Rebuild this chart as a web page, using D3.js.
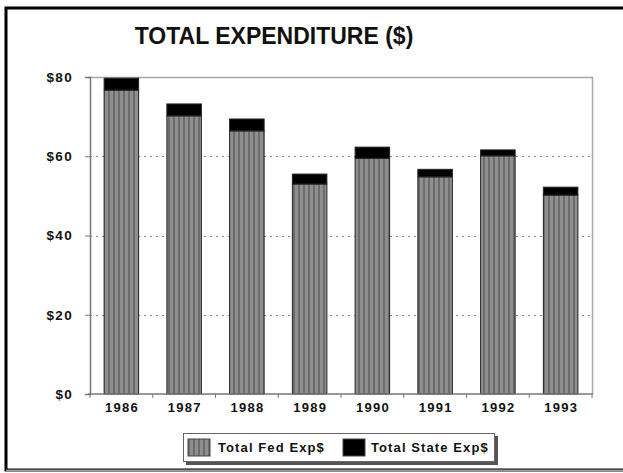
<!DOCTYPE html>
<html>
<head>
<meta charset="utf-8">
<script src="https://cdn.jsdelivr.net/npm/d3@7"></script>
<style>
  html, body { margin: 0; padding: 0; background: #fff; }
  svg { display: block; font-family: Arial, "Liberation Sans", sans-serif; }
</style>
</head>
<body>
<svg id="chart" width="623" height="473"></svg>
<script>
// Expenditure by year, in dollars
const years = ["1986", "1987", "1988", "1989", "1990", "1991", "1992", "1993"];
const fedExp = [76.7, 70.2, 66.4, 53.0, 59.5, 54.8, 60.1, 50.2];
const stateExp = [3.0, 3.0, 3.0, 2.5, 2.8, 1.9, 1.5, 2.0];
const yTicks = [0, 20, 40, 60, 80];
const seriesNames = ["Total Fed Exp$", "Total State Exp$"];

const svg = d3.select("#chart");

// striped fill used for the federal series
const defs = svg.append("defs");
const pat = defs.append("pattern")
  .attr("id", "fedStripes")
  .attr("patternUnits", "userSpaceOnUse")
  .attr("width", 5).attr("height", 10);
pat.append("rect").attr("width", 5).attr("height", 10).attr("fill", "#8e8e8e");
pat.append("rect").attr("x", 3).attr("width", 2).attr("height", 10).attr("fill", "#6c6c6c");

// outer frame
svg.append("rect").attr("x", 6).attr("y", 8).attr("width", 640).attr("height", 462)
  .attr("fill", "none").attr("stroke", "#000").attr("stroke-width", 3);
svg.append("line").attr("x1", 6).attr("x2", 623).attr("y1", 470.5).attr("y2", 470.5)
  .attr("stroke", "#999").attr("stroke-width", 2);

// title
svg.append("text")
  .attr("x", 274).attr("y", 44)
  .attr("text-anchor", "middle")
  .attr("font-size", 23).attr("font-weight", "bold")
  .attr("fill", "#111")
  .text("TOTAL EXPENDITURE ($)");

const plotL = 90, plotR = 592, plotT = 77, plotB = 394;

const x = d3.scaleBand().domain(years).range([plotL, plotR])
  .paddingInner(0.45).paddingOuter(0.225);
const y = d3.scaleLinear().domain([0, 80]).range([plotB, plotT]);

// plot area border (top and right)
svg.append("path")
  .attr("d", `M${plotL - 2},${plotT + 0.5}H${plotR + 0.5}V${plotB}`)
  .attr("fill", "none").attr("stroke", "#a8a8a8").attr("stroke-width", 1.5);

// dotted gridlines
svg.append("g").selectAll("line")
  .data(yTicks.filter(t => t > 0 && t < 80))
  .join("line")
  .attr("x1", plotL).attr("x2", plotR)
  .attr("y1", d => Math.round(y(d)) + 0.5).attr("y2", d => Math.round(y(d)) + 0.5)
  .attr("stroke", "#888").attr("stroke-width", 1)
  .attr("stroke-dasharray", "2,4");

// stacked data
const rows = years.map((yr, i) => ({ year: yr, fed: fedExp[i], state: stateExp[i] }));
const stack = d3.stack().keys(["fed", "state"])(rows);
const fills = ["url(#fedStripes)", "#000"];

svg.append("g").selectAll("g")
  .data(stack)
  .join("g")
  .attr("fill", (d, i) => fills[i])
  .selectAll("rect")
  .data(d => d)
  .join("rect")
  .attr("x", d => x(d.data.year))
  .attr("width", x.bandwidth())
  .attr("y", d => y(d[1]))
  .attr("height", d => y(d[0]) - y(d[1]))
  .attr("stroke", "#222").attr("stroke-width", 1);

// y axis
const yAxis = svg.append("g")
  .attr("transform", `translate(${plotL},0)`)
  .call(d3.axisLeft(y).tickValues(yTicks).tickFormat(d => "$" + d).tickSize(5).tickPadding(12));
yAxis.select(".domain").attr("stroke", "#777").attr("stroke-width", 1.5);
yAxis.selectAll(".tick line").attr("stroke", "#777");
yAxis.selectAll("text")
  .attr("font-size", 13.5).attr("font-weight", "bold")
  .attr("letter-spacing", 1.3)
  .attr("font-family", "Arial, 'Liberation Sans', sans-serif").attr("fill", "#111");

// x axis with ticks at category boundaries
const xAxis = svg.append("g").attr("transform", `translate(0,${plotB})`);
xAxis.append("line").attr("x1", plotL - 2).attr("x2", plotR + 1)
  .attr("stroke", "#777").attr("stroke-width", 1.5);
const bounds = d3.range(years.length + 1).map(i => plotL + i * (plotR - plotL) / years.length);
xAxis.selectAll(".bt").data(bounds).join("line")
  .attr("x1", d => d).attr("x2", d => d).attr("y1", 0).attr("y2", 4)
  .attr("stroke", "#777");
xAxis.selectAll(".lab").data(years).join("text")
  .attr("x", d => x(d) + x.bandwidth() / 2 + 0.6)
  .attr("y", 18)
  .attr("text-anchor", "middle")
  .attr("font-size", 13).attr("font-weight", "bold")
  .attr("letter-spacing", 1.3)
  .attr("fill", "#111")
  .text(d => d);

// legend
const lg = svg.append("g");
lg.append("rect").attr("x", 186).attr("y", 436).attr("width", 312).attr("height", 29).attr("fill", "#555");
lg.append("rect").attr("x", 183.5).attr("y", 433.5).attr("width", 311).attr("height", 28)
  .attr("fill", "#fff").attr("stroke", "#666").attr("stroke-width", 1);
const legendItems = [
  { name: seriesNames[0], fill: fills[0], sx: 188, tx: 218 },
  { name: seriesNames[1], fill: fills[1], sx: 343, tx: 371 }
];
legendItems.forEach(it => {
  lg.append("rect").attr("x", it.sx).attr("y", 439).attr("width", 22).attr("height", 17)
    .attr("fill", it.fill).attr("stroke", "#444").attr("stroke-width", 1);
  lg.append("text").attr("x", it.tx).attr("y", 452)
    .attr("font-size", 13).attr("font-weight", "bold").attr("fill", "#111")
    .attr("letter-spacing", 1.1)
    .text(it.name);
});
</script>
</body>
</html>
